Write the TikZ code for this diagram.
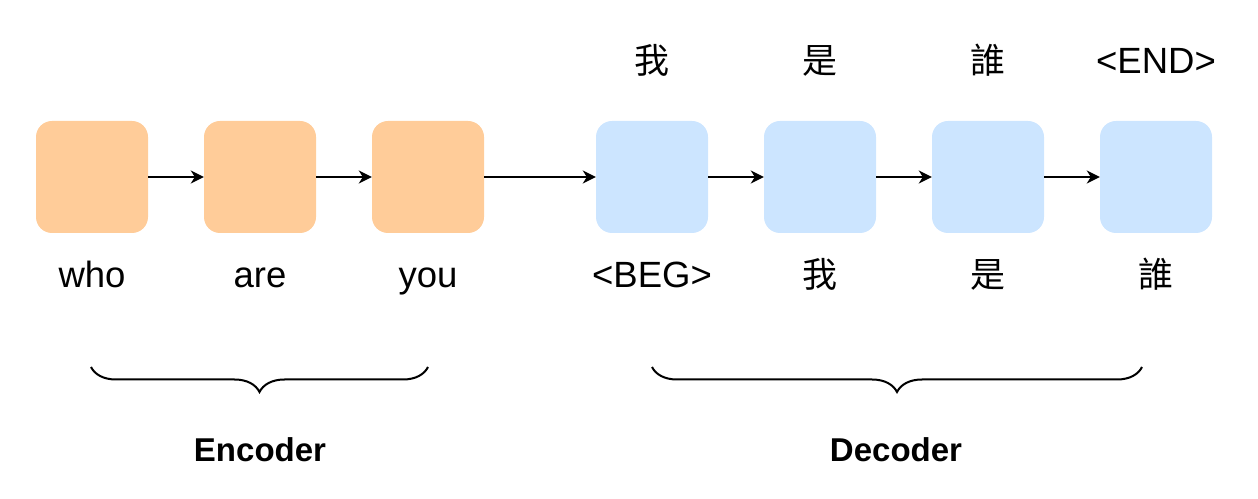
\documentclass[tikz,border=0pt]{standalone}
\usepackage{fontspec}
\setmainfont{Liberation Sans}
\newfontfamily\cjk{Noto Sans CJK TC}
\usetikzlibrary{arrows.meta,decorations.pathreplacing}
\definecolor{encfill}{HTML}{FFCC99}
\definecolor{decfill}{HTML}{CCE5FF}
\tikzset{
  cell/.style={rectangle, rounded corners=16pt, minimum width=112pt, minimum height=112pt, inner sep=0pt},
  enccell/.style={cell, fill=encfill},
  deccell/.style={cell, fill=decfill},
  word/.style={anchor=base, inner sep=0pt, font=\fontsize{36.5}{42}\selectfont},
  cword/.style={anchor=base, inner sep=0pt, font=\fontsize{35}{40}\selectfont\cjk},
  title/.style={anchor=base, inner sep=0pt, font=\fontsize{33}{38}\selectfont\bfseries},
  link/.style={line width=2pt, -{Stealth[length=13pt,width=13pt,inset=4pt]}},
  bracket/.style={line width=2pt, decorate, decoration={brace, amplitude=25pt, mirror}}
}
\begin{document}
\begin{tikzpicture}[x=1pt,y=1pt]
\useasboundingbox (0,0) rectangle (1258,498);
% cells
\node[enccell] (e1) at (92,321) {};
\node[enccell] (e2) at (260,321) {};
\node[enccell] (e3) at (428,321) {};
\node[deccell] (d1) at (652,321) {};
\node[deccell] (d2) at (820,321) {};
\node[deccell] (d3) at (988,321) {};
\node[deccell] (d4) at (1156,321) {};
% arrows
\draw[link] (e1.east) -- (e2.west);
\draw[link] (e2.east) -- (e3.west);
\draw[link] (e3.east) -- (d1.west);
\draw[link] (d1.east) -- (d2.west);
\draw[link] (d2.east) -- (d3.west);
\draw[link] (d3.east) -- (d4.west);
% inputs
\node[word] (i1) at (92,210) {who};
\node[word] (i2) at (260,210) {are};
\node[word] (i3) at (428,210) {you};
\node[word] (i4) at (652,210) {<BEG>};
\node[cword] (i5) at (820,210) {我};
\node[cword] (i6) at (988,210) {是};
\node[cword] (i7) at (1156,210) {誰};
% outputs
\node[cword] (o1) at (652,424) {我};
\node[cword] (o2) at (820,424) {是};
\node[cword] (o3) at (988,424) {誰};
\node[word] (o4) at (1156,424) {<END>};
% braces
\coordinate (b1l) at (91,131);
\coordinate (b1r) at (428,131);
\coordinate (b2l) at (652,131);
\coordinate (b2r) at (1142,131);
\draw[bracket] (b1l) -- (b1r);
\draw[bracket] (b2l) -- (b2r);
\node[title] (enc) at (260,37) {Encoder};
\node[title] (dec) at (896,37) {Decoder};
\end{tikzpicture}
\end{document}
